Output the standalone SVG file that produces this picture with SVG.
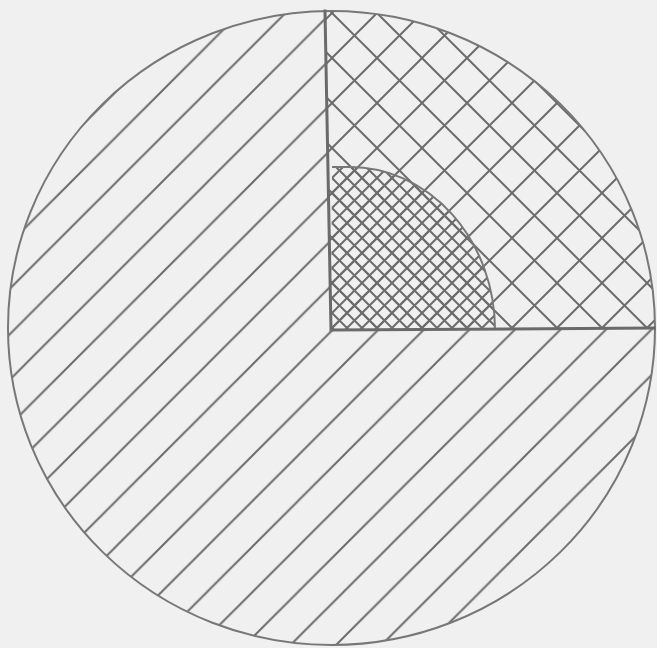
<svg xmlns="http://www.w3.org/2000/svg" width="657" height="648" viewBox="0 0 657 648">
  <style>
    .hatch { stroke: #6c6c6c; stroke-width: 2; fill: none; }
    .outline { stroke: #777777; stroke-width: 2; fill: none; }
    .divider { stroke: #6a6a6a; stroke-width: 3; fill: none; stroke-linecap: square; }
  </style>
  <defs>
    <pattern id="diag" patternUnits="userSpaceOnUse" x="25.5" y="0" width="45.5" height="45.5">
      <line class="hatch" x1="0" y1="45.5" x2="45.5" y2="0"/>
      <line class="hatch" x1="-2" y1="2" x2="2" y2="-2"/>
      <line class="hatch" x1="43.5" y1="47.5" x2="47.5" y2="43.5"/>
    </pattern>
    <pattern id="cross" patternUnits="userSpaceOnUse" x="17" y="13" width="45" height="45">
      <line class="hatch" x1="0" y1="45" x2="45" y2="0"/>
      <line class="hatch" x1="0" y1="0" x2="45" y2="45"/>
      <line class="hatch" x1="-2" y1="2" x2="2" y2="-2"/>
      <line class="hatch" x1="43" y1="47" x2="47" y2="43"/>
      <line class="hatch" x1="-2" y1="43" x2="2" y2="47"/>
      <line class="hatch" x1="43" y1="-2" x2="47" y2="2"/>
    </pattern>
    <pattern id="dense" patternUnits="userSpaceOnUse" x="2" y="13" width="15" height="15">
      <line class="hatch" x1="0" y1="15" x2="15" y2="0"/>
      <line class="hatch" x1="0" y1="0" x2="15" y2="15"/>
      <line class="hatch" x1="-2" y1="2" x2="2" y2="-2"/>
      <line class="hatch" x1="13" y1="17" x2="17" y2="13"/>
      <line class="hatch" x1="-2" y1="13" x2="2" y2="17"/>
      <line class="hatch" x1="13" y1="-2" x2="17" y2="2"/>
    </pattern>
    <clipPath id="disc">
      <ellipse cx="331.5" cy="328" rx="323.5" ry="317"/>
    </clipPath>
  </defs>

  <rect x="0" y="0" width="657" height="648" fill="#f0f0f0"/>

  <g clip-path="url(#disc)">
    <g id="sector-diagonal">
      <path d="M0,0 L325,0 L331,330 L657,328 L657,648 L0,648 Z" fill="url(#diag)"/>
    </g>
    <g id="sector-crosshatch">
      <path d="M325,0 L657,0 L657,328 L331,330 Z" fill="url(#cross)"/>
    </g>
    <g id="inner-quarter">
      <path d="M331,330 L332,167 L350,167 A145 163 0 0 1 495,329 Z" fill="url(#dense)"/>
      <path class="outline" d="M332,167 L350,167 A145 163 0 0 1 495,329"/>
    </g>
  </g>

  <g id="outer-circle">
    <ellipse class="outline" cx="331.5" cy="328" rx="323.5" ry="317"/>
  </g>

  <g id="dividers">
    <path class="divider" d="M325,11 L331,330 L654,328"/>
  </g>
</svg>
